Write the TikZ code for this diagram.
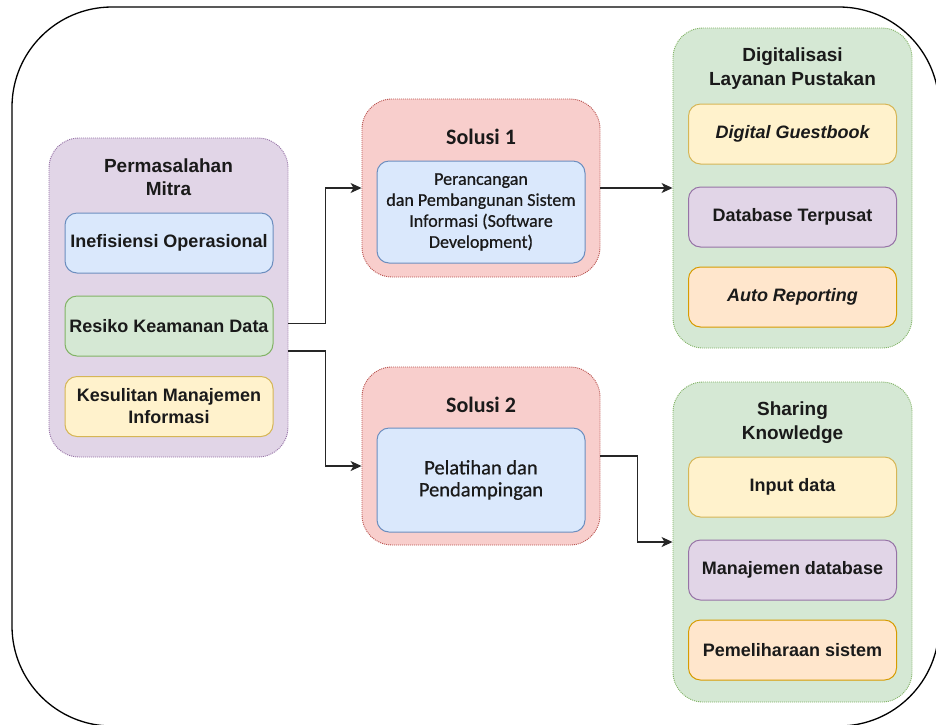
\documentclass[tikz,border=0pt]{standalone}
\usepackage{fontspec}
\setmainfont{Liberation Sans}
\newfontfamily\carlito{Carlito}
\newfontfamily\carlitomed{Carlito}[FakeBold=0.6]
\usetikzlibrary{arrows.meta}

\definecolor{purpleF}{HTML}{E1D5E7}\definecolor{purpleD}{HTML}{9673A6}
\definecolor{blueF}{HTML}{DAE8FC}\definecolor{blueD}{HTML}{6C8EBF}
\definecolor{greenF}{HTML}{D5E8D4}\definecolor{greenD}{HTML}{82B366}
\definecolor{yellowF}{HTML}{FFF2CC}\definecolor{yellowD}{HTML}{D6B656}
\definecolor{redF}{HTML}{F8CECC}\definecolor{redD}{HTML}{B85450}
\definecolor{orangeF}{HTML}{FFE6CC}\definecolor{orangeD}{HTML}{D79B00}
\definecolor{ink}{HTML}{1A1A1A}

\tikzset{
  group/.style 2 args={fill=#1, draw=#2, line width=0.9pt,
    dash pattern=on 1pt off 1pt, rounded corners=30pt, inner sep=0pt},
  item/.style 2 args={fill=#1, draw=#2, line width=1pt,
    rounded corners=12pt, minimum width=208pt, minimum height=60pt,
    inner sep=2pt, align=center, text=ink,
    font=\bfseries\fontsize{18}{22}\selectfont},
  heading/.style={align=center, text=ink, inner sep=0pt,
    font=\bfseries\fontsize{19}{23.5}\selectfont},
  solhead/.style={align=center, text=ink, inner sep=0pt,
    font=\carlito\bfseries\fontsize{22}{26}\selectfont},
  conn/.style={draw=black!85, line width=1.2pt,
    -{Stealth[length=11pt,width=10pt,inset=3pt]}},
}

\begin{document}
\begin{tikzpicture}[x=1pt,y=-1pt]
\useasboundingbox (0,0) rectangle (936,724);

% outer frame
\draw[black, line width=1.3pt, rounded corners=100pt] (12,7) rectangle (939,726);

% problem group
\node[group={purpleF}{purpleD}, minimum width=239pt, minimum height=319pt] (perm) at (168.5,297.5) {};
\node[heading] (permt) at (168.5,177) {Permasalahan\\Mitra};
\node[item={blueF}{blueD}] (ine) at (169,243) {Inefisiensi Operasional};
\node[item={greenF}{greenD}] (res) at (169,326) {Resiko Keamanan Data};
\node[item={yellowF}{yellowD}] (kes) at (169,406.5) {Kesulitan Manajemen\\Informasi};

% solution 1
\node[group={redF}{redD}, minimum width=238pt, minimum height=178pt] (s1) at (481,188) {};
\node[solhead] (s1t) at (481,137) {Solusi 1};
\node[item={blueF}{blueD}, minimum height=102pt,
      font=\carlitomed\fontsize{18}{21}\selectfont] (s1in) at (481,212)
  {Perancangan\\dan Pembangunan Sistem\\Informasi (Software\\Development)};

% solution 2
\node[group={redF}{redD}, minimum width=238pt, minimum height=178pt] (s2) at (481,456) {};
\node[solhead] (s2t) at (481,405) {Solusi 2};
\node[item={blueF}{blueD}, minimum height=104pt,
      font=\carlitomed\fontsize{20.5}{22}\selectfont] (s2in) at (481,480)
  {Pelatihan dan\\Pendampingan};

% digitalisation group
\node[group={greenF}{greenD}, minimum width=239pt, minimum height=320pt] (dig) at (792.5,188) {};
\node[heading] (digt) at (792.5,68.5) {Digitalisasi\\Layanan Pustakan};
\node[item={yellowF}{yellowD}, font=\bfseries\itshape\fontsize{18}{22}\selectfont] (dg1) at (792.5,134) {Digital Guestbook};
\node[item={purpleF}{purpleD}] (dg2) at (792.5,217) {Database Terpusat};
\node[item={orangeF}{orangeD}, font=\bfseries\itshape\fontsize{18}{22}\selectfont] (dg3) at (792.5,297) {Auto Reporting};

% knowledge sharing group
\node[group={greenF}{greenD}, minimum width=239pt, minimum height=320pt] (shr) at (792.5,542) {};
\node[heading] (shrt) at (792.5,422.5) {Sharing\\Knowledge};
\node[item={yellowF}{yellowD}] (sh1) at (792.5,487) {Input data};
\node[item={purpleF}{purpleD}] (sh2) at (792.5,570) {Manajemen database};
\node[item={orangeF}{orangeD}] (sh3) at (792.5,650) {Pemeliharaan sistem};

% connectors
\draw[conn] ([yshift=-26pt]perm.east) -- ++(37,0) |- (s1.west);
\draw[conn] ([yshift=-53.5pt]perm.east) -- ++(37,0) |- ([yshift=-10pt]s2.west);
\draw[conn] (s1.east) -- (dig.west);
\draw[conn] (s2.east) -- ++(37,0) |- (shr.west);
\end{tikzpicture}
\end{document}
